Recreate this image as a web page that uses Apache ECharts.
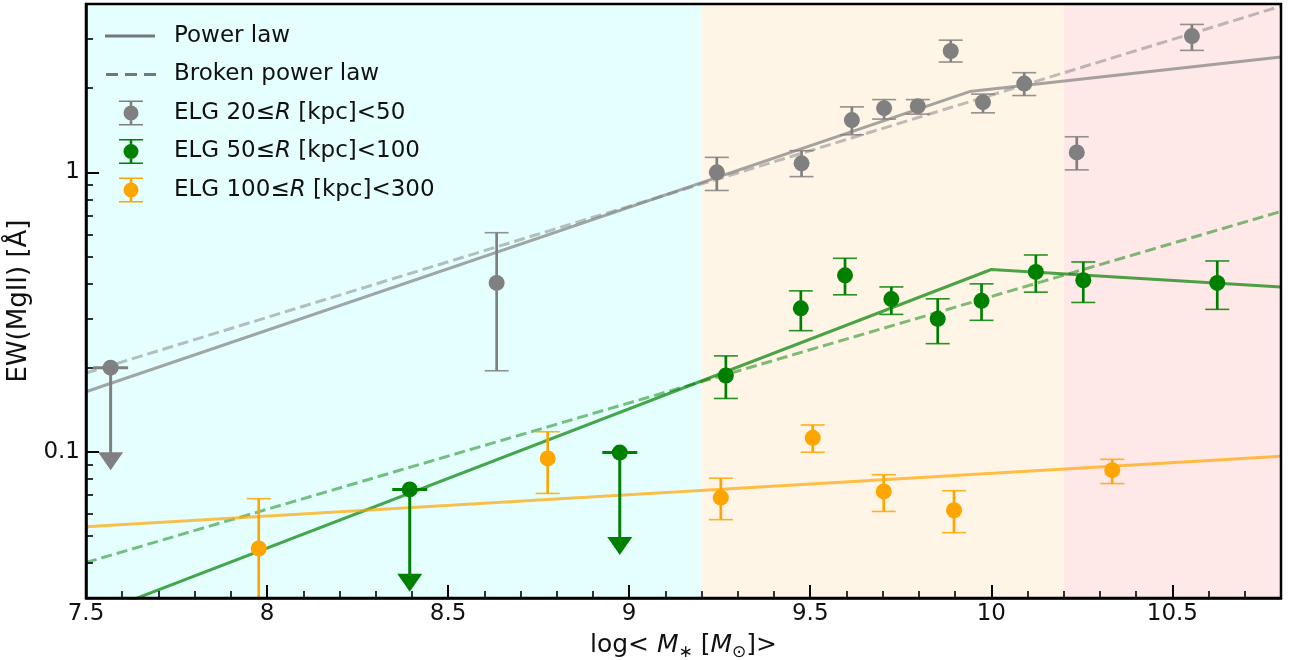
<!DOCTYPE html>
<html>
<head>
<meta charset="utf-8">
<script src="https://cdn.jsdelivr.net/npm/echarts@6/dist/echarts.min.js"></script>
<style>
html,body{margin:0;padding:0;background:#fff;}
#chart{width:1296px;height:660px;}
</style>
</head>
<body>
<div id="chart"></div>
<script>
// ---------- data ----------
const xMajorTicks = [7.5, 8, 8.5, 9, 9.5, 10, 10.5];
const yMinorTicks = [0.03,0.04,0.05,0.06,0.07,0.08,0.09,0.2,0.3,0.4,0.5,0.6,0.7,0.8,0.9,2,3,4];

// shaded mass bins [from, to]
const regionBins = [[7.5, 9.2], [9.2, 10.2], [10.2, 10.8]];

// ELG 20<=R<50 : [x, y, lower, upper]
const grayPoints = [
  [8.634, 0.402, 0.195, 0.608],
  [9.242, 1.000, 0.861, 1.131],
  [9.476, 1.077, 0.965, 1.195],
  [9.615, 1.537, 1.362, 1.714],
  [9.704, 1.696, 1.550, 1.820],
  [9.797, 1.724, 1.615, 1.820],
  [9.888, 2.716, 2.480, 2.970],
  [9.977, 1.782, 1.632, 1.904],
  [10.091, 2.076, 1.882, 2.272],
  [10.236, 1.178, 1.020, 1.340],
  [10.554, 3.070, 2.730, 3.380]
];
const grayLimits = [[7.568, 0.200]];

// ELG 50<=R<100
const greenPoints = [
  [9.267, 0.1875, 0.1552, 0.2204],
  [9.474, 0.326, 0.2713, 0.3766],
  [9.596, 0.428, 0.3645, 0.4925],
  [9.724, 0.352, 0.3102, 0.389],
  [9.852, 0.299, 0.2438, 0.3527],
  [9.973, 0.347, 0.2954, 0.399],
  [10.123, 0.440, 0.3726, 0.506],
  [10.254, 0.411, 0.3423, 0.4778],
  [10.624, 0.402, 0.3233, 0.4817]
];
const greenLimits = [[8.394, 0.0734], [8.974, 0.0994]];

// ELG 100<=R<300
const orangePoints = [
  [7.977, 0.0451, 0.020, 0.068],
  [8.775, 0.0947, 0.071, 0.118],
  [9.253, 0.0686, 0.0572, 0.0805],
  [9.507, 0.1122, 0.0997, 0.1248],
  [9.703, 0.0722, 0.0612, 0.0828],
  [9.897, 0.0618, 0.0514, 0.0726],
  [10.334, 0.086, 0.077, 0.094]
];

// fitted relations
const grayPowerFit   = [[7.5, 0.164], [9.94, 1.944], [10.8, 2.585]];
const grayBrokenFit  = [[7.5, 0.1915], [10.8, 3.93]];
const greenPowerFit  = [[7.5, 0.0255], [10.0, 0.449], [10.8, 0.389]];
const greenBrokenFit = [[7.5, 0.0402], [10.8, 0.7244]];
const orangePowerFit = [[7.5, 0.054], [10.8, 0.0965]];

const seriesNames = ['ELG 20≤R [kpc]<50', 'ELG 50≤R [kpc]<100', 'ELG 100≤R [kpc]<300'];
const legendLineNames = ['Power law', 'Broken power law'];

// ---------- styling ----------
const FONT = 'DejaVu Sans';
const GRAY = '#808080', GREEN = '#008000', ORANGE = '#ffa500';
const regionColors = ['#e5ffff', '#fff5e6', '#ffe8e8'];

function errRender(color) {
  return function (params, api) {
    const x = api.value(0);
    const pLo = api.coord([x, api.value(2)]);
    const pHi = api.coord([x, api.value(3)]);
    const cw = 12;
    return {
      type: 'group',
      children: [
        {type: 'line', shape: {x1: pLo[0], y1: pLo[1], x2: pHi[0], y2: pHi[1]}, style: {stroke: color, lineWidth: 2.7}},
        {type: 'line', shape: {x1: pLo[0] - cw, y1: pLo[1], x2: pLo[0] + cw, y2: pLo[1]}, style: {stroke: color, lineWidth: 1.6, opacity: 0.85}},
        {type: 'line', shape: {x1: pHi[0] - cw, y1: pHi[1], x2: pHi[0] + cw, y2: pHi[1]}, style: {stroke: color, lineWidth: 1.6, opacity: 0.85}}
      ]
    };
  };
}

function limitRender(color) {
  return function (params, api) {
    const x = api.value(0), v = api.value(1);
    const p = api.coord([x, v]);
    const tip = api.coord([x, v * 0.43]);
    const th = 18, hw = 12.5;
    return {
      type: 'group',
      children: [
        {type: 'line', shape: {x1: p[0], y1: p[1], x2: tip[0], y2: tip[1] - th + 1}, style: {stroke: color, lineWidth: 3}},
        {type: 'line', shape: {x1: p[0] - 17.5, y1: p[1], x2: p[0] + 17.5, y2: p[1]}, style: {stroke: color, lineWidth: 3}},
        {type: 'polygon', shape: {points: [[tip[0] - hw, tip[1] - th], [tip[0] + hw, tip[1] - th], [tip[0], tip[1]]]}, style: {fill: color}}
      ]
    };
  };
}

function fitLine(data, rgba, dashed) {
  return {
    type: 'line', data: data, showSymbol: false, symbol: 'none', silent: true, z: 2,
    lineStyle: {color: rgba, width: 3, type: dashed ? [11, 5] : 'solid', cap: 'butt'},
    itemStyle: {color: rgba}, clip: true, animation: false
  };
}

const iconBox = 'M0,0L0.01,0M64,26L63.99,26';
const iconSolid = 'path://' + iconBox + 'M0,11.5H50V14.5H0Z';
const iconDashed = 'path://' + iconBox + 'M1,11.5H13V14.5H1ZM20,11.5H32V14.5H20ZM39,11.5H51V14.5H39Z';
const iconErr = 'path://' + iconBox +
  'M14,0.5H38V2H14ZM14,24H38V25.5H14ZM24.7,1H27.3V25H24.7Z' +
  'M18.5,13A7.5,7.5 0 1 1 33.5,13A7.5,7.5 0 1 1 18.5,13Z';

const chart = echarts.init(document.getElementById('chart'), null, {renderer: 'canvas'});

const option = {
  animation: false,
  backgroundColor: '#ffffff',
  grid: {
    left: 86, right: 15, top: 4, bottom: 62, z: 10,
    show: true, borderColor: '#000', borderWidth: 2.5, backgroundColor: 'transparent',
    containLabel: false, outerBoundsMode: 'none'
  },
  legend: {
    orient: 'vertical', left: 105, top: 23, padding: 0, itemGap: 12.5,
    itemWidth: 64, itemHeight: 26, selectedMode: false,
    itemStyle: {borderWidth: 0},
    textStyle: {fontFamily: FONT, fontSize: 23, color: '#111', lineHeight: 26,
      rich: {i: {fontFamily: FONT, fontSize: 23, fontStyle: 'italic', color: '#111', lineHeight: 26}}},
    formatter: function (name) { return name.replace('R', '{i|R}'); },
    data: [
      {name: legendLineNames[0], icon: iconSolid},
      {name: legendLineNames[1], icon: iconDashed},
      {name: seriesNames[0], icon: iconErr},
      {name: seriesNames[1], icon: iconErr},
      {name: seriesNames[2], icon: iconErr}
    ]
  },
  xAxis: [
    {
      type: 'value', min: 7.5, max: 10.8, interval: 0.5, position: 'bottom', z: 10,
      axisLine: {show: true, onZero: false, lineStyle: {color: '#000', width: 2.5}},
      axisTick: {show: true, inside: true, length: 13, lineStyle: {color: '#000', width: 2}},
      axisLabel: {show: true, margin: 5, fontFamily: FONT, fontSize: 23, color: '#111',
        showMaxLabel: false, showMinLabel: true,
        formatter: function (v) { return xMajorTicks.some(t => Math.abs(t - v) < 1e-6) ? String(v) : ''; }},
      splitLine: {show: false},
      name: 'log< {i|M}{s|∗} [{i|M}{s|⊙}]>',
      nameLocation: 'middle', nameGap: 29,
      nameTextStyle: {fontFamily: FONT, fontSize: 25, color: '#111', lineHeight: 30,
        rich: {
          i: {fontFamily: FONT, fontSize: 25, fontStyle: 'italic', color: '#111', lineHeight: 30},
          s: {fontFamily: FONT, fontSize: 17, color: '#111', lineHeight: 20, verticalAlign: 'bottom'}
        }}
    },
    {
      type: 'value', min: 7.5, max: 10.8, interval: 0.1, position: 'bottom', z: 10,
      axisLine: {show: false, onZero: false},
      axisTick: {show: true, inside: true, length: 7, lineStyle: {color: '#000', width: 1.6}},
      axisLabel: {show: false}, splitLine: {show: false}
    }
  ],
  yAxis: [
    {
      type: 'log', logBase: 10, min: 0.03, max: 4, position: 'left', z: 10,
      axisLine: {show: true, onZero: false, lineStyle: {color: '#000', width: 2.5}},
      axisTick: {show: true, inside: true, length: 13, lineStyle: {color: '#000', width: 2}},
      axisLabel: {show: true, margin: 6, fontFamily: FONT, fontSize: 23, color: '#111',
        showMinLabel: false, showMaxLabel: false,
        formatter: function (v) { return (Math.abs(v - 0.1) < 1e-9) ? '0.1' : (Math.abs(v - 1) < 1e-9 ? '1' : ''); }},
      splitLine: {show: false},
      name: 'EW(MgII) [Å]', nameLocation: 'middle', nameGap: 47,
      nameTextStyle: {fontFamily: FONT, fontSize: 26, color: '#111'}
    },
    {
      type: 'value', min: Math.log10(0.03), max: Math.log10(4), position: 'left', z: 10,
      axisLine: {show: false, onZero: false},
      axisTick: {show: true, inside: true, length: 7, lineStyle: {color: '#000', width: 1.6},
        customValues: yMinorTicks.map(v => Math.log10(v))},
      axisLabel: {show: false}, splitLine: {show: false}
    }
  ],
  series: [
    {
      type: 'line', name: '_regions', data: [], z: 0, zlevel: 0, silent: true,
      markArea: {
        silent: true,
        label: {show: false},
        data: regionBins.map((b, i) => [
          {xAxis: b[0], itemStyle: {color: regionColors[i], opacity: 1}},
          {xAxis: b[1]}
        ])
      }
    },
    // legend-only entries
    {type: 'scatter', name: legendLineNames[0], data: [], itemStyle: {color: '#555'}},
    {type: 'scatter', name: legendLineNames[1], data: [], itemStyle: {color: '#555'}},

    fitLine(grayPowerFit, 'rgba(128,128,128,0.7)', false),
    fitLine(grayBrokenFit, 'rgba(128,128,128,0.5)', true),
    fitLine(greenPowerFit, 'rgba(0,128,0,0.7)', false),
    fitLine(greenBrokenFit, 'rgba(0,128,0,0.5)', true),
    fitLine(orangePowerFit, 'rgba(255,165,0,0.7)', false),

    {type: 'custom', data: grayPoints, renderItem: errRender(GRAY), clip: true, z: 3, silent: true},
    {type: 'custom', data: greenPoints, renderItem: errRender(GREEN), clip: true, z: 3, silent: true},
    {type: 'custom', data: orangePoints, renderItem: errRender(ORANGE), clip: true, z: 3, silent: true},
    {type: 'custom', data: grayLimits, renderItem: limitRender(GRAY), clip: true, z: 3, silent: true},
    {type: 'custom', data: greenLimits, renderItem: limitRender(GREEN), clip: true, z: 3, silent: true},

    {type: 'scatter', name: seriesNames[0], z: 4, symbol: 'circle', symbolSize: 16,
      data: grayPoints.map(p => [p[0], p[1]]).concat(grayLimits), itemStyle: {color: GRAY, opacity: 1}},
    {type: 'scatter', name: seriesNames[1], z: 4, symbol: 'circle', symbolSize: 16,
      data: greenPoints.map(p => [p[0], p[1]]).concat(greenLimits), itemStyle: {color: GREEN, opacity: 1}},
    {type: 'scatter', name: seriesNames[2], z: 4, symbol: 'circle', symbolSize: 16,
      data: orangePoints.map(p => [p[0], p[1]]), itemStyle: {color: ORANGE, opacity: 1}}
  ]
};
chart.setOption(option);
</script>
</body>
</html>
